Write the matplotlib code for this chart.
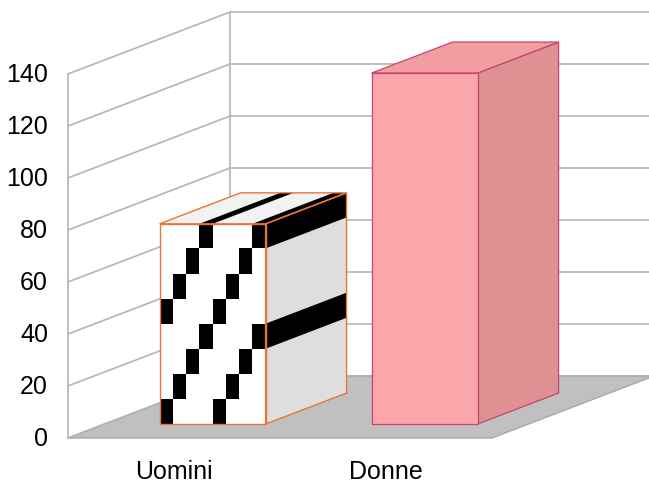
import numpy as np
import matplotlib.pyplot as plt
from matplotlib.patches import Polygon

# data
categories = ['Uomini', 'Donne']
values = [77, 135]
yticks = [0, 20, 40, 60, 80, 100, 120, 140]

plt.rcParams['font.family'] = ['Liberation Sans', 'DejaVu Sans']

fig = plt.figure(figsize=(6.49, 4.85), dpi=100)
ax = fig.add_axes([0, 0, 1, 1])
# 1 category = 212 px, 1 value unit = 2.6 px
ax.set_xlim(-68 / 212, (649 - 68) / 212)
ax.set_ylim(-(485 - 439) / 2.6, 439 / 2.6)
ax.axis('off')

# oblique depth offset (z from 0 front to 1 back)
DX = 162 / 212
DV = 62 / 2.6


def P(x, v, z):
    return (x + z * DX, v + z * DV)


def face(pts, fc, ec='none', lw=0.9, zorder=3):
    ax.add_patch(Polygon(pts, closed=True, facecolor=fc, edgecolor=ec,
                         linewidth=lw, zorder=zorder, joinstyle='miter'))


ncat = len(categories)
vmax = yticks[-1]
grid_c = '#B4B4B4'

# floor
face([P(0, 0, 0), P(ncat, 0, 0), P(ncat, 0, 1), P(0, 0, 1)],
     '#C0C0C0', ec='#A8A8A8', lw=1.0, zorder=1)

# walls: gridlines on left wall and back wall
for v in yticks:
    a, b = P(0, v, 0), P(0, v, 1)
    ax.plot([a[0], b[0]], [a[1], b[1]], color=grid_c, lw=1.2, zorder=2)
    c = P(ncat + 1, v, 1)
    ax.plot([b[0], c[0]], [b[1], c[1]], color=grid_c, lw=1.2, zorder=0.5)
for z in [0, 1]:
    a, b = P(0, 0, z), P(0, vmax, z)
    ax.plot([a[0], b[0]], [a[1], b[1]], color=grid_c, lw=1.2, zorder=2)

# bars
bw = 0.5
z0, z1 = 0.225, 0.725
for i, (cat, v) in enumerate(zip(categories, values)):
    x0 = i + 0.26
    x1 = x0 + bw
    front = [P(x0, 0, z0), P(x1, 0, z0), P(x1, v, z0), P(x0, v, z0)]
    side = [P(x1, 0, z0), P(x1, 0, z1), P(x1, v, z1), P(x1, v, z0)]
    top = [P(x0, v, z0), P(x1, v, z0), P(x1, v, z1), P(x0, v, z1)]
    if i == 0:
        ec = '#E8743B'
        face(side, '#DEDEDE', zorder=3)
        face(top, '#F2F2F2', zorder=3)
        face(front, '#FFFFFF', zorder=3)
        # wide upward diagonal pattern
        ncol = 8
        cw = bw / ncol
        ch = 9.65
        nrow = int(np.ceil(v / ch))
        for r in range(nrow):
            lo, hi = r * ch, min((r + 1) * ch, v)
            for c in range(ncol):
                if (c - r) % 4 == 0:
                    face([P(x0 + c * cw, lo, z0), P(x0 + (c + 1) * cw, lo, z0),
                          P(x0 + (c + 1) * cw, hi, z0), P(x0 + c * cw, hi, z0)],
                         '#000000', zorder=4)
            if (ncol - 1 - r) % 4 == 0:
                face([P(x1, lo, z0), P(x1, lo, z1), P(x1, hi, z1), P(x1, hi, z0)],
                     '#000000', zorder=4)
        rt = nrow - 1
        for c in range(ncol):
            if (c - rt) % 4 == 0:
                face([P(x0 + c * cw, v, z0), P(x0 + (c + 1) * cw, v, z0),
                      P(x0 + (c + 1) * cw, v, z1), P(x0 + c * cw, v, z1)],
                     '#000000', zorder=4)
        for pts in [side, top, front]:
            face(pts, 'none', ec=ec, lw=1.0, zorder=5)
    else:
        ec = '#C4456E'
        face(side, '#DE9092', ec=ec, zorder=3)
        face(top, '#F29EA0', ec=ec, zorder=3)
        face(front, '#FAA6AA', ec=ec, zorder=3)

# tick labels
for v in yticks:
    ax.text(-20 / 212, v, str(v), ha='right', va='center', fontsize=18, color='#000000')
for i, cat in enumerate(categories):
    ax.text(i + 0.5, -15.4, cat, ha='center', va='baseline', fontsize=18, color='#000000')

fig.savefig('out.png', dpi=100)
